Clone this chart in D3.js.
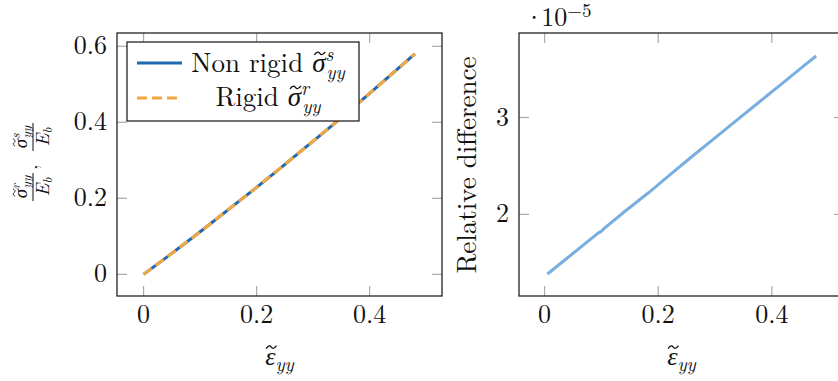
<!DOCTYPE html>
<html>
<head>
<meta charset="utf-8">
<script src="https://cdn.jsdelivr.net/npm/d3@7/dist/d3.min.js"></script>
<style>
  body { margin: 0; background: #fff; }
</style>
</head>
<body>
<div id="chart"></div>
<script>
var width = 838;
var height = 381;

// left panel: stress curves (both series lie on top of each other)
var strainLeft = [0, 0.04, 0.08, 0.12, 0.16, 0.2, 0.24, 0.28, 0.32, 0.36, 0.4, 0.44, 0.48];
var nonRigid   = [0, 0.044, 0.089, 0.135, 0.182, 0.229, 0.277, 0.326, 0.375, 0.425, 0.476, 0.528, 0.58];
var rigid      = [0, 0.044, 0.089, 0.135, 0.182, 0.229, 0.277, 0.326, 0.375, 0.425, 0.476, 0.528, 0.58];

// right panel: relative difference (x 1e-5)
var strainRight = [0.005, 0.04, 0.08, 0.095, 0.1, 0.105, 0.14, 0.18, 0.185, 0.22, 0.26, 0.3, 0.34, 0.38, 0.42, 0.46, 0.478];
var relDiff     = [1.385, 1.55, 1.74, 1.81, 1.825, 1.855, 2.025, 2.21, 2.232, 2.405, 2.6, 2.79, 2.98, 3.17, 3.36, 3.55, 3.635];

var xTicks = [0, 0.2, 0.4];
var yTicksLeft = [0, 0.2, 0.4, 0.6];
var yTicksRight = [2, 3];

var blue = "#1f68b4";
var orange = "#f4a73c";
var lightBlue = "#78aee0";
var serif = "'Latin Modern Roman', 'Liberation Serif', serif";

var svg = d3.select("#chart").append("svg")
    .attr("width", width)
    .attr("height", height);

// every text gets the font directly
function txt(parent, size, italic) {
  return parent.append("text")
    .style("font-family", serif)
    .style("font-size", size + "px")
    .style("font-style", italic ? "italic" : "normal")
    .style("fill", "#111");
}

function fmt(d) { return d === 0 ? "0" : String(d); }

// small tilde drawn over one char of a text element (same coordinate system)
function tildePath(parent, textEl, charIndex, size, dxShift) {
  var box = textEl.node().getExtentOfChar(charIndex);
  var cx = box.x + box.width / 2 + (dxShift || 0);
  var cy = box.y + box.height * 0.3;
  var w = size * 0.2, h = size * 0.055;
  parent.append("path")
    .attr("d", "M" + (cx - w) + "," + (cy + h) +
      " C" + (cx - w * 0.5) + "," + (cy - h * 1.5) + " " + (cx - w * 0.2) + "," + (cy - h) + " " + cx + "," + cy +
      " S" + (cx + w * 0.5) + "," + (cy + h * 1.6) + " " + (cx + w) + "," + (cy - h))
    .attr("fill", "none")
    .attr("stroke", "#111")
    .attr("stroke-width", size * 0.05);
}

// draws frame, inward ticks on all four sides and tick labels
function drawPanel(left, top, w, h, x, y, yTicks) {
  var g = svg.append("g");
  var tickLen = 10;

  xTicks.forEach(function(t) {
    g.append("line").attr("x1", x(t)).attr("x2", x(t))
      .attr("y1", top + h).attr("y2", top + h - tickLen)
      .attr("stroke", "#aaa").attr("stroke-width", 1.2);
    g.append("line").attr("x1", x(t)).attr("x2", x(t))
      .attr("y1", top).attr("y2", top + tickLen)
      .attr("stroke", "#aaa").attr("stroke-width", 1.2);
    txt(g, 26, false)
      .attr("x", x(t)).attr("y", top + h + 27)
      .attr("text-anchor", "middle")
      .text(fmt(t));
  });

  yTicks.forEach(function(t) {
    g.append("line").attr("x1", left).attr("x2", left + tickLen)
      .attr("y1", y(t)).attr("y2", y(t))
      .attr("stroke", "#aaa").attr("stroke-width", 1.2);
    g.append("line").attr("x1", left + w).attr("x2", left + w - tickLen)
      .attr("y1", y(t)).attr("y2", y(t))
      .attr("stroke", "#aaa").attr("stroke-width", 1.2);
    txt(g, 26, false)
      .attr("x", left - 10).attr("y", y(t) + 8)
      .attr("text-anchor", "end")
      .text(fmt(t));
  });

  g.append("rect")
    .attr("x", left).attr("y", top)
    .attr("width", w).attr("height", h)
    .attr("fill", "none")
    .attr("stroke", "#222")
    .attr("stroke-width", 1.3);

  // x label: tilde epsilon with subscript yy
  var lab = txt(svg, 26, true)
    .attr("x", left + w / 2).attr("y", 365)
    .attr("text-anchor", "middle");
  lab.append("tspan").text("ε");
  lab.append("tspan").attr("dy", 6).style("font-size", "19px").text("yy");
  tildePath(svg, lab, 0, 26, 1);
}

// ---------- left panel ----------
var L = {left: 117, top: 33, w: 325, h: 263};
var x1 = d3.scaleLinear().domain([-0.047, 0.528]).range([L.left, L.left + L.w]);
var y1 = d3.scaleLinear().domain([-0.057, 0.635]).range([L.top + L.h, L.top]);

drawPanel(L.left, L.top, L.w, L.h, x1, y1, yTicksLeft);

var lineL = d3.line()
  .x(function(d) { return x1(d[0]); })
  .y(function(d) { return y1(d[1]); });

svg.append("path")
  .datum(d3.zip(strainLeft, nonRigid))
  .attr("d", lineL)
  .attr("fill", "none")
  .attr("stroke", blue)
  .attr("stroke-width", 3);

svg.append("path")
  .datum(d3.zip(strainLeft, rigid))
  .attr("d", lineL)
  .attr("fill", "none")
  .attr("stroke", orange)
  .attr("stroke-width", 3)
  .attr("stroke-dasharray", "10,5");

// legend
var leg = svg.append("g");
leg.append("rect")
  .attr("x", 127).attr("y", 42).attr("width", 232).attr("height", 79)
  .attr("fill", "#fff").attr("stroke", "#111").attr("stroke-width", 1.2);
leg.append("line").attr("x1", 137).attr("x2", 182).attr("y1", 63).attr("y2", 63)
  .attr("stroke", blue).attr("stroke-width", 3);
leg.append("line").attr("x1", 137).attr("x2", 182).attr("y1", 98).attr("y2", 98)
  .attr("stroke", orange).attr("stroke-width", 3).attr("stroke-dasharray", "10,5");

function legendLabel(yBase, word, sup) {
  var t = txt(leg, 27, false)
    .attr("x", 268).attr("y", yBase)
    .attr("text-anchor", "middle");
  t.append("tspan").text(word + " ");
  t.append("tspan").style("font-style", "italic").text("σ");
  t.append("tspan").style("font-style", "italic").attr("dy", -11).style("font-size", "19px").text(sup);
  t.append("tspan").style("font-style", "italic").attr("dx", -7).attr("dy", 18).style("font-size", "19px").text("yy");
  tildePath(leg, t, word.length + 1, 27, 1);
}
legendLabel(72, "Non rigid", "s");
legendLabel(106, "Rigid", "r");

// rotated y label: sigma^r_yy / E_b , sigma^s_yy / E_b
var yl = svg.append("g").attr("transform", "translate(33,162) rotate(-90)");
function fraction(cx, sup) {
  var num = txt(yl, 19, true)
    .attr("x", cx).attr("y", -6).attr("text-anchor", "middle");
  num.append("tspan").text("σ");
  num.append("tspan").attr("dy", -7).style("font-size", "13px").text(sup);
  num.append("tspan").attr("dx", -5).attr("dy", 11).style("font-size", "13px").text("yy");
  tildePath(yl, num, 0, 19, 1);
  yl.append("line").attr("x1", cx - 14).attr("x2", cx + 14).attr("y1", 0).attr("y2", 0)
    .attr("stroke", "#111").attr("stroke-width", 1);
  var den = txt(yl, 19, true)
    .attr("x", cx).attr("y", 16).attr("text-anchor", "middle");
  den.append("tspan").text("E");
  den.append("tspan").attr("dy", 3).style("font-size", "13px").text("b");
}
fraction(-25, "r");
txt(yl, 19, false).attr("x", -5).attr("y", 4).attr("text-anchor", "middle").text(",");
fraction(25, "s");

// ---------- right panel ----------
var R = {left: 519, top: 33, w: 325, h: 263};
var x2 = d3.scaleLinear().domain([-0.045, 0.527]).range([R.left, R.left + R.w]);
var y2 = d3.scaleLinear().domain([1.158, 3.872]).range([R.top + R.h, R.top]);

drawPanel(R.left, R.top, R.w, R.h, x2, y2, yTicksRight);

svg.append("path")
  .datum(d3.zip(strainRight, relDiff))
  .attr("d", d3.line()
    .x(function(d) { return x2(d[0]); })
    .y(function(d) { return y2(d[1]); }))
  .attr("fill", "none")
  .attr("stroke", lightBlue)
  .attr("stroke-width", 3);

// scale factor label
var sc = txt(svg, 26, false).attr("x", 524).attr("y", 26);
sc.append("tspan").text("·");
sc.append("tspan").attr("dx", -3).text("10");
sc.append("tspan").attr("dy", -9).style("font-size", "19px").text("−5");

// y label of right panel
txt(svg, 27, false)
  .attr("transform", "translate(476,165) rotate(-90)")
  .attr("text-anchor", "middle")
  .text("Relative difference");
</script>
</body>
</html>
